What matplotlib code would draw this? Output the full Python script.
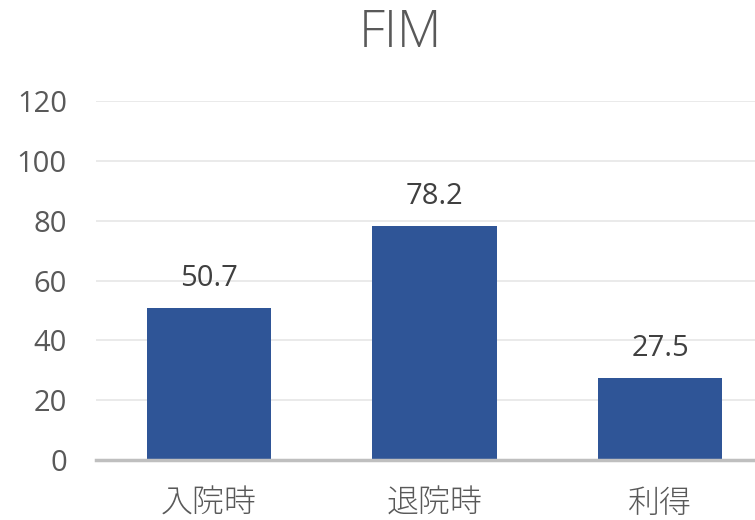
import matplotlib
matplotlib.use("Agg")
import matplotlib.pyplot as plt

plt.rcParams['font.family'] = ['Open Sans', 'Noto Sans CJK JP', 'DejaVu Sans']

categories = ['入院時', '退院時', '利得']
values = [50.7, 78.2, 27.5]
yticks = [0, 20, 40, 60, 80, 100, 120]

fig = plt.figure(figsize=(7.55, 5.2), dpi=100)
W, H = 755, 520
ax = fig.add_axes([96 / W, 60 / H, 677 / W, 359 / H])

x = range(len(categories))
bars = ax.bar(x, values, width=0.55, color='#2F5597', zorder=3)
for xi, v in zip(x, values):
    ax.text(xi, v + 5, f'{v}', ha='center', va='bottom', fontsize=21, color='#404040')

ax.set_xlim(-0.5, 2.5)
ax.set_ylim(0, 120)
ax.set_yticks(yticks)
ax.set_yticklabels([str(t) for t in yticks], fontsize=21, color='#595959')
ax.set_xticks(list(x))
ax.set_xticklabels(categories, color='#595959')
for lbl in ax.get_xticklabels():
    lbl.set_fontfamily(['Noto Sans CJK JP', 'DejaVu Sans'])
    lbl.set_fontsize(23)
    lbl.set_fontweight('light')
ax.tick_params(axis='both', length=0)
ax.tick_params(axis='y', pad=21)
ax.tick_params(axis='x', pad=19)
ax.grid(axis='y', color='#e6e6e6', linewidth=1.2, zorder=0)
for s in ['top', 'right', 'left']:
    ax.spines[s].set_visible(False)
ax.spines['bottom'].set_color('#bfbfbf')
ax.spines['bottom'].set_linewidth(2.5)
ax.spines['bottom'].set_zorder(4)

fig.text(400 / W, 1 - 33 / H, 'FIM', ha='center', va='center', fontsize=37,
         color='#595959', fontweight='light')

fig.savefig('out.png', dpi=100)
